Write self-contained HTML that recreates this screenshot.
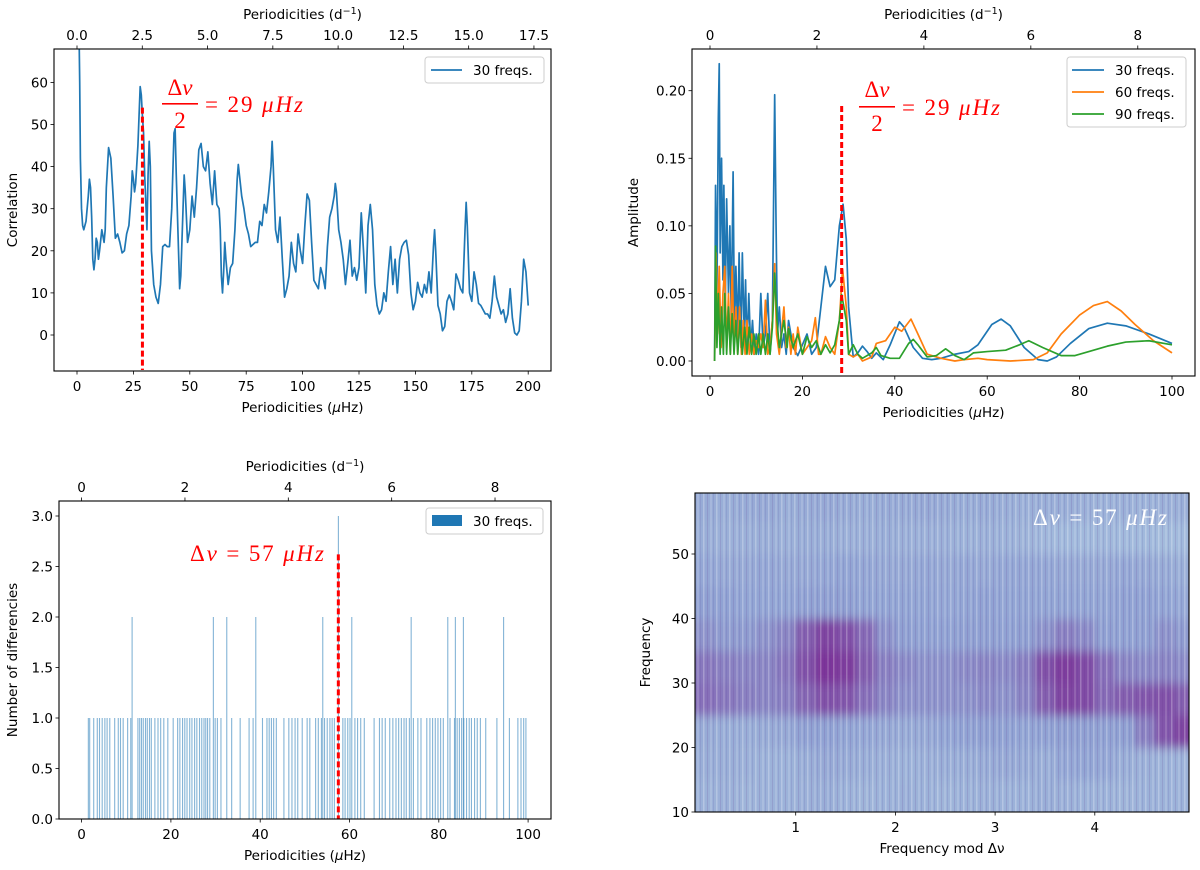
<!DOCTYPE html>
<html><head><meta charset="utf-8"><style>
html,body{margin:0;padding:0;background:#fff;}
svg{display:block;font-family:"DejaVu Sans","Liberation Sans",sans-serif;}
.tk{font-size:13.5px;fill:#000;}
.lab{font-size:13.5px;fill:#000;}
.math{font-family:"Liberation Serif",serif;fill:#ff0000;font-size:23px;}
.it{font-style:italic;}
</style></head><body>
<svg id="fig" width="1200" height="870" viewBox="0 0 1200 870" xmlns="http://www.w3.org/2000/svg">
<defs>
<clipPath id="c1"><rect x="55" y="49" width="496" height="321"/></clipPath>
<clipPath id="c2"><rect x="692" y="49" width="503" height="327"/></clipPath>
<clipPath id="c4"><rect x="695" y="493" width="494" height="319"/></clipPath>
<filter id="blur4" x="-5%" y="-5%" width="110%" height="110%"><feGaussianBlur stdDeviation="3 5"/></filter>
<pattern id="stripes" width="13" height="10" patternUnits="userSpaceOnUse">
<rect x="1" y="0" width="1.5" height="10" fill="#ffffff" opacity="0.25"/>
<rect x="5" y="0" width="1" height="10" fill="#5a2a8a" opacity="0.14"/>
<rect x="8" y="0" width="2" height="10" fill="#ffffff" opacity="0.14"/>
<rect x="11" y="0" width="1" height="10" fill="#4a3a9a" opacity="0.12"/>
</pattern>
</defs>
</svg>
<script>
// ---------- Panel 1 data (correlation) ----------
const p1X = [1,1.2,1.5,2,2.5,3,4,5,5.5,6,6.5,7,7.5,8,8.5,9,9.5,10,11,12,12.5,13,14,15,16,17,18,19,20,21,22,23,24,24.5,25,25.5,26,27,28,28.5,29,29.5,30,31,31.5,32,32.5,33,34,35,36,37,38,39,40,41,42,43,43.5,44,45,45.5,46,47,47.5,48,49,50,51,52,53,54,55,56,57,58,59,60,61,62,63,63.5,64,64.5,65,65.5,66,67,68,69,70,71,71.5,72,73,74,75,76,77,78,79,80,81,82,83,84,85,86,86.5,87,88,89,90,91,92,93,94,95,96,97,98,99,100,101,102,103,104,105,106,107,108,109,110,111,112,113,114,114.5,115,116,117,118,119,120,121,122,123,124,125,126,127,128,129,130,131,132,133,134,135,136,137,138,139,140,141,142,143,144,145,146,147,148,149,150,151,152,153,154,155,156,157,158,158.5,159,160,161,162,163,164,165,166,167,168,169,170,171,172,172.5,173,174,175,176,177,178,179,180,181,182,183,184,185,186,187,188,189,190,191,192,193,194,195,196,197,198,199,200];
const p1Y = [68,60,42,30,26,25,27,33,37,35,28,18,15.5,18,23,22,18,20,25,22,25,35,44.5,42,33,23,24,22,19.5,20,24,26,33,39,37,34,36,45,59,57,52,48,38,25,38,46,40,20,12,9,7.5,12,21,21.5,21,21,30,48,49,38,20,11,14,30,38,34,22,25,33,28,35,44,45.5,40,39,43.5,36,31,39,31,30,25,14,10,15,22,18,12,16,17,25,37,40.5,38,33,30,26,24,21,21.5,22,22,27,26,31,29,34,40,46,40,25,22,28,18,9,11,14,22,17,15,24,20,17,26,33.5,32,22,13,12,11,16,14,11,21,28,30,33,36,34,25,22,18,12,17,22.5,14,16,13,16,29,20,10,26,31,25,12,7,5,6,10,8,15,21,12,18,10,18,21,22,22.5,19,10,6,8,12.5,10,9,12,10,15,10,21,25,20,7,5,1,2,8,9.5,8,6,14.5,13,11,10,25,31.5,26,10,8,15,12,7.5,7,6,5,5,4,8,14,9,7,5,6,3,5,11,4,0.5,0,1,8,18,15,7];
const p1YTicks = [0,10,20,30,40,50,60];
const p1XTicks = [0,25,50,75,100,125,150,175,200];
const p1TopTicks = [0,2.5,5,7.5,10,12.5,15,17.5];
const p1TopLabels = ["0.0","2.5","5.0","7.5","10.0","12.5","15.0","17.5"];

// ---------- Panel 2 data (amplitude) ----------
const p2BlueX = [1,1.2,1.5,1.8,2,2.2,2.5,2.8,3,3.3,3.6,4,4.3,4.6,5,5.3,5.6,6,6.3,6.7,7,7.4,7.7,8,8.4,8.8,9.2,9.6,10,10.5,11,11.5,12,12.5,13,13.5,14,14.3,14.6,15,15.5,16,16.5,17,18,19,20,21,22,23,24,25,26,27,28,28.8,29.5,30,31,32,33,34,35,36,37.5,39,41,42,44,46,48,50,53,56,58,61,63,65,68,71,73,75,78,82,86,90,95,100];
const p2BlueY = [0,0.13,0.05,0.18,0.22,0.08,0.15,0.06,0.13,0.04,0.12,0.05,0.1,0.03,0.14,0.02,0.07,0.02,0.08,0.01,0.08,0.02,0.06,0.01,0.05,0.01,0.03,0.005,0.02,0.005,0.05,0.01,0.02,0.05,0.005,0.03,0.197,0.1,0.02,0.04,0.01,0.02,0.005,0.03,0.01,0.004,0.012,0.02,0.005,0.01,0.04,0.07,0.055,0.06,0.1,0.116,0.09,0.04,0.003,0.006,0.011,0.007,0.002,0.006,0.001,0.012,0.029,0.025,0.01,0.002,0.001,0.002,0.005,0.007,0.012,0.027,0.031,0.026,0.01,0.001,0,0.003,0.013,0.024,0.028,0.026,0.02,0.013];
const p2OrangeX = [1,1.3,1.6,2,2.4,2.8,3.2,3.6,4,4.4,4.8,5.2,5.6,6,6.4,6.8,7.2,7.6,8,8.5,9,9.5,10,10.5,11,11.5,12,12.5,13,13.5,14,14.4,15,16,16.5,17,17.5,18,18.5,19,20,21,22,22.8,23.5,24,25,26,27,28,28.7,29.5,30,31,32,33,35,36,38,40,41.5,43.5,45,47,50,53,55,58,60,65,70,73,76,80,83,86,89,92,96,100];
const p2OrangeY = [0,0.08,0.02,0.07,0.01,0.05,0.07,0.01,0.05,0.005,0.07,0.01,0.04,0.005,0.04,0.005,0.03,0.005,0.03,0.005,0.02,0.005,0.015,0.01,0.02,0.01,0.045,0.005,0.01,0.03,0.072,0.02,0.005,0.04,0.01,0.025,0.005,0.02,0.005,0.025,0.005,0.01,0.015,0.032,0.005,0.005,0.018,0.01,0.005,0.03,0.068,0.04,0.005,0.003,0.005,0,0.003,0.013,0.015,0.025,0.022,0.031,0.02,0.005,0.002,0,0.001,0.002,0.001,0,0.001,0.006,0.02,0.034,0.041,0.044,0.037,0.027,0.015,0.006];
const p2GreenX = [1,1.2,1.5,1.8,2.2,2.5,2.9,3.2,3.6,4,4.4,4.8,5.2,5.6,6,6.5,7,7.5,8,8.5,9,9.5,10,10.5,11,11.5,12,12.5,13,13.5,14,14.5,15,16,16.7,17,18,19,20,21,22,23,24,25,26,27,28,28.5,29.5,30,31,32,33,35,36,37,39,41,43,44,45,47,49,51,53,55,57,60,64,67,69,72,76,79,82,86,90,95,100];
const p2GreenY = [0,0.085,0.01,0.05,0.005,0.04,0.005,0.05,0.005,0.04,0.005,0.035,0.005,0.03,0.005,0.03,0.005,0.025,0.005,0.025,0.005,0.02,0.005,0.02,0.005,0.02,0.005,0.02,0.005,0.025,0.065,0.03,0.01,0.03,0.01,0.024,0.01,0.02,0.005,0.018,0.01,0.015,0.005,0.012,0.006,0.012,0.03,0.049,0.03,0.005,0.012,0.005,0.002,0.006,0.01,0.004,0.002,0.002,0.013,0.016,0.012,0.003,0.004,0.009,0.004,0.001,0.006,0.007,0.008,0.012,0.015,0.01,0.004,0.004,0.007,0.011,0.014,0.015,0.012];
const p2YTicks = [0,0.05,0.10,0.15,0.20];
const p2YLabels = ["0.00","0.05","0.10","0.15","0.20"];
const p2XTicks = [0,20,40,60,80,100];
const p2TopTicks = [0,2,4,6,8];

// ---------- Panel 3 data (histogram of differences) ----------
const p3Ones = [1.5,1.8,2.7,3.5,4,4.6,5.2,5.7,6.3,7.4,8.2,8.7,9.3,10.3,11,12.6,13,13.4,13.8,14.3,14.7,15.2,15.6,16.4,17.1,17.7,18.4,19.3,20.5,21.5,22,22.6,23.1,23.6,24.2,24.7,25.3,25.8,26.4,26.9,27.4,27.8,28.2,28.7,29.9,30.4,31.2,33.6,35.5,37.5,38.4,40.5,41.5,42,42.5,43,43.6,45.3,46.4,47.1,47.8,48.4,49.4,50.5,51.1,52.4,53,53.7,54.4,55,55.6,56.1,56.6,58.5,59,59.6,60.1,61.2,61.8,62.5,63.3,65.5,66.7,67.3,68,69,69.7,70.4,71,71.6,72.2,72.7,73.4,74.3,75.3,76,77.3,78,78.6,79.2,79.8,80.4,81,82.5,83.5,84.1,84.6,85.1,85.6,86.2,86.8,87.3,88,88.6,89.3,90.5,93,95.8,97.7,98.4,99,99.5];
const p3Twos = [11.3,29.5,32.5,39,54,60.5,73.8,82,83.7,85.5,94.5];
const p3Threes = [57.5];
const p3YTicks = [0,0.5,1,1.5,2,2.5,3];
const p3YLabels = ["0.0","0.5","1.0","1.5","2.0","2.5","3.0"];
const p3XTicks = [0,20,40,60,80,100];
const p3TopTicks = [0,2,4,6,8];

// ---------- Panel 4 data (echelle diagram) ----------
const p4RowEdges = [10,15,20,25,30,35,40,45,50,55,59.4];
const p4ColCount = 25;
const p4Grid = [
 [0.30,0.32,0.28,0.30,0.30,0.32,0.35,0.30,0.28,0.30,0.32,0.30,0.28,0.30,0.32,0.30,0.30,0.35,0.32,0.30,0.30,0.28,0.30,0.30,0.30],
 [0.35,0.35,0.32,0.30,0.30,0.35,0.40,0.38,0.35,0.32,0.30,0.32,0.35,0.35,0.38,0.40,0.38,0.35,0.42,0.45,0.42,0.35,0.32,0.30,0.30],
 [0.38,0.36,0.35,0.38,0.40,0.48,0.48,0.45,0.42,0.40,0.38,0.40,0.45,0.48,0.50,0.48,0.45,0.48,0.50,0.50,0.48,0.50,0.62,0.78,0.85],
 [0.68,0.65,0.62,0.60,0.62,0.72,0.80,0.78,0.68,0.60,0.55,0.55,0.55,0.55,0.58,0.55,0.60,0.75,0.85,0.82,0.70,0.75,0.78,0.80,0.75],
 [0.65,0.62,0.60,0.60,0.65,0.80,0.90,0.88,0.75,0.62,0.58,0.55,0.55,0.58,0.60,0.58,0.62,0.80,0.88,0.82,0.68,0.60,0.58,0.60,0.58],
 [0.55,0.52,0.52,0.55,0.60,0.75,0.85,0.80,0.70,0.55,0.50,0.48,0.48,0.50,0.50,0.48,0.50,0.55,0.62,0.58,0.50,0.48,0.50,0.55,0.52],
 [0.50,0.48,0.45,0.45,0.45,0.48,0.50,0.50,0.45,0.45,0.45,0.45,0.42,0.45,0.48,0.45,0.45,0.45,0.45,0.45,0.45,0.48,0.48,0.45,0.42],
 [0.42,0.40,0.40,0.42,0.40,0.40,0.42,0.45,0.42,0.40,0.40,0.42,0.40,0.42,0.40,0.42,0.42,0.42,0.40,0.40,0.40,0.42,0.40,0.38,0.35],
 [0.35,0.32,0.32,0.35,0.32,0.35,0.35,0.32,0.32,0.35,0.32,0.32,0.32,0.30,0.32,0.30,0.28,0.25,0.22,0.22,0.25,0.22,0.22,0.20,0.22],
 [0.38,0.35,0.38,0.40,0.35,0.38,0.40,0.38,0.35,0.38,0.38,0.40,0.38,0.36,0.38,0.35,0.32,0.35,0.35,0.32,0.30,0.32,0.30,0.32,0.35]
];
const p4YTicks = [10,20,30,40,50];
const p4XTicks = [1,2,3,4];

const NS = "http://www.w3.org/2000/svg";
const svg = document.getElementById('fig');
function mk(tag, attrs, parent){
  const e = document.createElementNS(NS, tag);
  for (const k in attrs) e.setAttribute(k, attrs[k]);
  (parent||svg).appendChild(e);
  return e;
}
function txt(s, attrs, parent){ const e = mk('text', attrs, parent); e.textContent = s; return e; }

function axes(name, L, R, T, B, xs, ys, xt, xl, yt, yl, tt, tl, topConv, xlabel, ylabel, ylx, hasTop){
  const g = mk('g', {});
  
  
  xt.forEach((v,i)=>{
    const x = xs(v);
    mk('line',{x1:x,x2:x,y1:B,y2:B+3.5,stroke:'#000','stroke-width':0.8},g);
    const t = txt(xl[i],{x:x,y:B+20,'text-anchor':'middle',class:'tk'},g);
    
    
  });
  yt.forEach((v,i)=>{
    const y = ys(v);
    mk('line',{x1:L-3.5,x2:L,y1:y,y2:y,stroke:'#000','stroke-width':0.8},g);
    const t = txt(yl[i],{x:L-6,y:y+5,'text-anchor':'end',class:'tk'},g);
    
    
  });
  if (hasTop){
    tt.forEach((v,i)=>{
      const x = xs(v*topConv);
      mk('line',{x1:x,x2:x,y1:T-3.5,y2:T,stroke:'#000','stroke-width':0.8},g);
      const t = txt(tl[i],{x:x,y:T-9,'text-anchor':'middle',class:'tk'},g);
      
      
    });
    const tt2 = txt('',{x:(L+R)/2,y:T-30,'text-anchor':'middle',class:'lab'},g);
    tt2.innerHTML = 'Periodicities (d<tspan dy="-5" font-size="9.5">−1</tspan><tspan dy="5">)</tspan>';
    
    
  }
  const xlab = txt('',{x:(L+R)/2,y:B+41,'text-anchor':'middle',class:'lab'},g);
  xlab.innerHTML = xlabel;
  
  
  const cy = (T+B)/2;
  const ylab = txt(ylabel,{x:ylx,y:cy,'text-anchor':'middle',class:'lab',transform:`rotate(-90 ${ylx} ${cy})`},g);
  
  
  const frame = mk('rect',{x:L,y:T,width:R-L,height:B-T,fill:'none',stroke:'#000','stroke-width':1.1},g);
  
  
  return g;
}
function poly(xsArr, ysArr, xs, ys, color, clip, name){
  const pts = xsArr.map((v,i)=> xs(v).toFixed(2)+','+ys(ysArr[i]).toFixed(2)).join(' ');
  const p = mk('polyline',{points:pts,fill:'none',stroke:color,'stroke-width':1.7,'stroke-linejoin':'round','clip-path':clip});
  
  
  return p;
}
function legendBox(x,y,w,h,name){
  const r = mk('rect',{x:x,y:y,width:w,height:h,rx:3,fill:'#fff',stroke:'#cccccc','stroke-width':1,opacity:0.95});
  
  
}
function fracLabel(cx, topY, barY, botY, eqX, eqY, name, color){
  const g = mk('g',{});
  
  
  const t1 = txt('',{x:cx,y:topY,'text-anchor':'middle',class:'math'},g);
  t1.innerHTML = 'Δ<tspan class="it">ν</tspan>';
  mk('rect',{x:cx-18,y:barY,width:36,height:1.6,fill:color},g);
  txt('2',{x:cx,y:botY,'text-anchor':'middle',class:'math'},g);
  const t3 = txt('',{x:eqX,y:eqY,class:'math',textLength:98,lengthAdjust:'spacing'},g);
  t3.innerHTML = '= 29 <tspan class="it">μHz</tspan>';
}
const CONV = 11.574;
const fmtInt = v => String(v);

// ---- Panel 1 ----
const x1 = v => 77 + v*2.256, y1 = v => 335 - v*4.21;
poly(p1X, p1Y, x1, y1, '#1f77b4', 'url(#c1)', 'correlation-line');
let dl = mk('line',{x1:x1(29),x2:x1(29),y1:y1(54),y2:370,stroke:'#ff0000','stroke-width':3,'stroke-dasharray':'6,3'});


axes('panel1',54,551,49,371,x1,y1,p1XTicks,p1XTicks.map(fmtInt),p1YTicks,p1YTicks.map(fmtInt),p1TopTicks,p1TopLabels,CONV,'Periodicities (<tspan font-style="italic">μ</tspan>Hz)','Correlation',17,true);
legendBox(425,57,119,26,'panel1-legend');
let ll = mk('line',{x1:431,x2:462,y1:70,y2:70,stroke:'#1f77b4','stroke-width':1.8});


let lt = txt('30 freqs.',{x:473,y:75,class:'tk'});


fracLabel(180, 95, 103, 128, 205, 112, 'half-delta-nu-annotation', '#ff0000');

// ---- Panel 2 ----
const x2 = v => 710 + v*4.62, y2 = v => 361 - v*1351.5;
poly(p2BlueX, p2BlueY, x2, y2, '#1f77b4', 'url(#c2)', 'amplitude-30-freqs-line');
poly(p2OrangeX, p2OrangeY, x2, y2, '#ff7f0e', 'url(#c2)', 'amplitude-60-freqs-line');
poly(p2GreenX, p2GreenY, x2, y2, '#2ca02c', 'url(#c2)', 'amplitude-90-freqs-line');
let dl2 = mk('line',{x1:x2(28.5),x2:x2(28.5),y1:106,y2:376,stroke:'#ff0000','stroke-width':3,'stroke-dasharray':'6,3'});


axes('panel2',692,1195,49,376,x2,y2,p2XTicks,p2XTicks.map(fmtInt),p2YTicks,p2YLabels,p2TopTicks,p2TopTicks.map(fmtInt),CONV,'Periodicities (<tspan font-style="italic">μ</tspan>Hz)','Amplitude',638,true);
legendBox(1067,57,119,70,'panel2-legend');
const legNames = ['30 freqs.','60 freqs.','90 freqs.'];
const legCols = ['#1f77b4','#ff7f0e','#2ca02c'];
legNames.forEach((n,i)=>{
  const y = 70 + i*22;
  const l = mk('line',{x1:1072,x2:1104,y1:y,y2:y,stroke:legCols[i],'stroke-width':1.8});
  
  
  const t = txt(n,{x:1115,y:y+5,class:'tk'});
  
  
});
fracLabel(877, 97, 106, 131, 902, 115, 'panel2-half-delta-nu-annotation', '#ff0000');

// ---- Panel 3 ----
const x3 = v => 81.6 + v*4.465, y3 = v => 819 - v*101;
function bars(list, h, name){
  list.forEach(v=>{
    const b = mk('rect',{x:x3(v)-0.5,y:y3(h),width:1.1,height:y3(0)-y3(h),fill:'#1f77b4',opacity:0.55});
    
    
  });
}
bars(p3Ones, 1, 'difference-bar');
bars(p3Twos, 2, 'difference-bar-double');
bars(p3Threes, 3, 'difference-bar-triple');
let dl3 = mk('line',{x1:x3(57.5),x2:x3(57.5),y1:y3(2.62),y2:819,stroke:'#ff0000','stroke-width':3,'stroke-dasharray':'6,3'});


axes('panel3',59,551,501,819,x3,y3,p3XTicks,p3XTicks.map(fmtInt),p3YTicks,p3YLabels,p3TopTicks,p3TopTicks.map(fmtInt),CONV,'Periodicities (<tspan font-style="italic">μ</tspan>Hz)','Number of differencies',17,true);
legendBox(426,508,117,26,'panel3-legend');
let lp = mk('rect',{x:432,y:515,width:30,height:11,fill:'#1f77b4'});


let lt3 = txt('30 freqs.',{x:473,y:526,class:'tk'});


let a3 = txt('',{x:190,y:561,class:'math',textLength:134,lengthAdjust:'spacing'});
a3.innerHTML = 'Δ<tspan class="it">ν</tspan> = 57 <tspan class="it">μHz</tspan>';



// ---- Panel 4 ----
const x4 = v => 696 + v*99.7, y4 = v => 812 - (v-10)*6.45;
function cmap(t){
  const s0=[176,205,227], s1=[143,160,210], s2=[120,28,140];
  let a,b,u;
  if (t<0.5){a=s0;b=s1;u=t/0.5;} else {a=s1;b=s2;u=(t-0.5)/0.5;}
  return 'rgb('+a.map((c,i)=>Math.round(c+(b[i]-c)*u)).join(',')+')';
}
const hmOuter = mk('g',{'clip-path':'url(#c4)'});


const hm = mk('g',{filter:'url(#blur4)'},hmOuter);


p4Grid.forEach((row,r)=>{
  row.forEach((v,c)=>{
    const xa = x4(c*0.2) - (c===0?10:0), xb = x4((c+1)*0.2) + (c===row.length-1?10:0);
    const ya = y4(p4RowEdges[r+1]) - (r===p4Grid.length-1?10:0), yb = y4(p4RowEdges[r]) + (r===0?10:0);
    const cell = mk('rect',{x:xa,y:ya,width:xb-xa+0.5,height:yb-ya+0.5,fill:cmap(v)},hm);
    
    
  });
});
mk('rect',{x:695,y:493,width:494,height:319,fill:'url(#stripes)'},hmOuter);
axes('panel4',695,1189,493,812,x4,y4,p4XTicks,p4XTicks.map(fmtInt),p4YTicks,p4YTicks.map(fmtInt),[],[],1,'Frequency mod Δν','Frequency',650,false);
let a4 = txt('',{x:1033,y:525,class:'math',style:'fill:#ffffff',textLength:134,lengthAdjust:'spacing'});
a4.innerHTML = 'Δ<tspan class="it">ν</tspan> = 57 <tspan class="it">μHz</tspan>';


</script>
</body></html>
